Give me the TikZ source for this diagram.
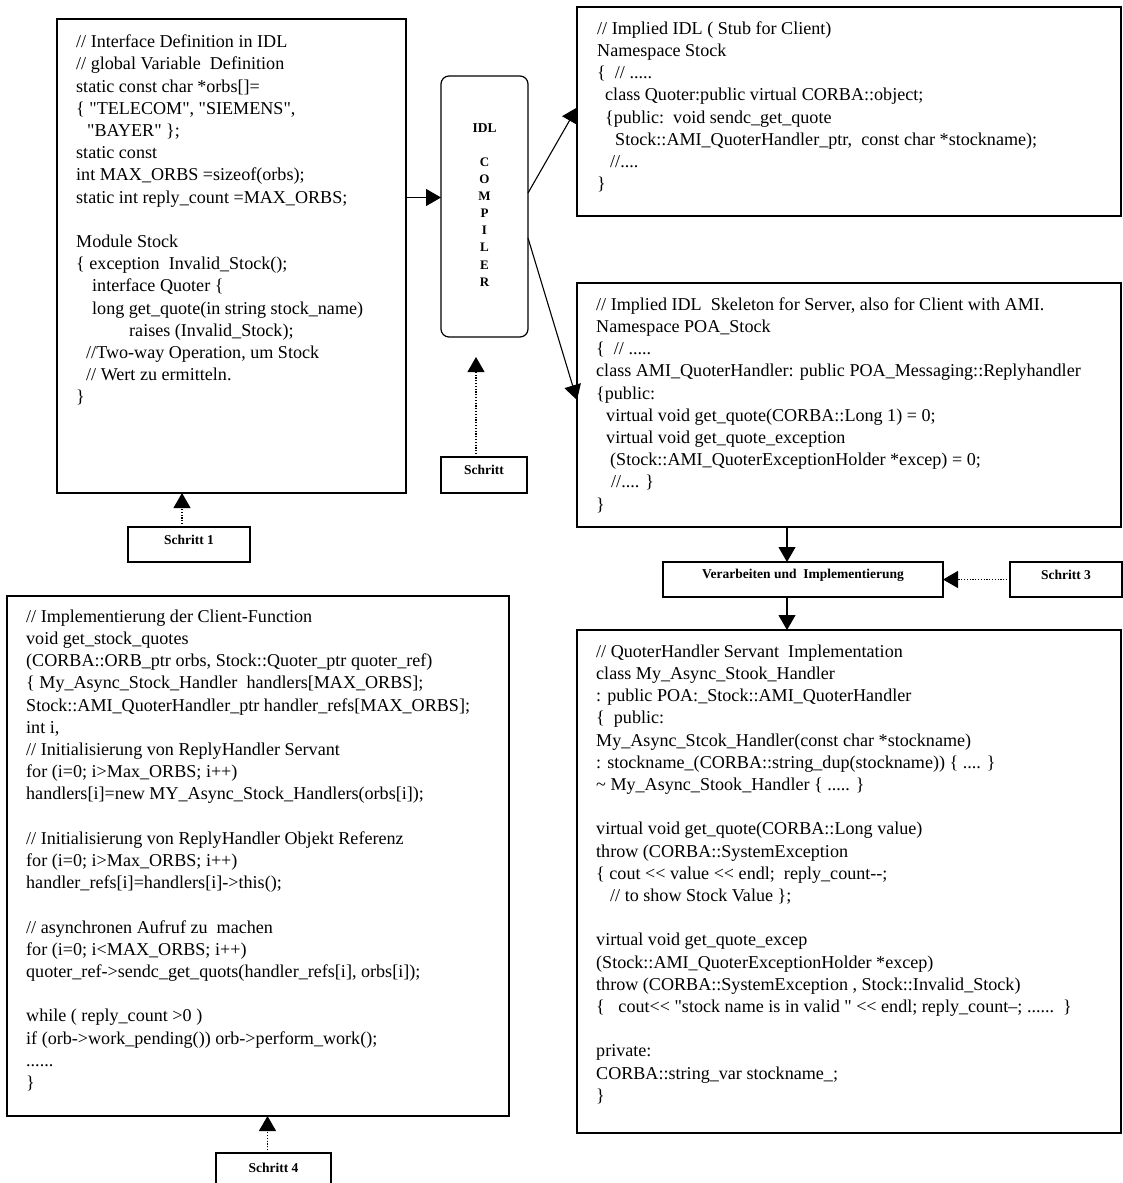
\documentclass[tikz,border=0pt]{standalone}
\usepackage{fontspec}
\newfontfamily\codefont{Liberation Serif}
\usetikzlibrary{arrows.meta,fit,calc}
\newcommand\firststrut{\rule{0pt}{15pt}}
\begin{document}
\begin{tikzpicture}[x=1pt,y=-1pt,
  frame/.style={draw, line width=1.2pt, inner sep=0pt, outer sep=0pt},
  code/.style={anchor=north west, inner sep=0pt, align=left,
    font=\codefont\fontsize{18.1}{22.2}\selectfont},
  tag/.style={font=\codefont\bfseries\fontsize{13.5}{16}\selectfont},
  flow/.style={line width=1.1pt, -{Triangle[length=15pt,width=17pt]}},
  stepflow/.style={flow, dash pattern=on 1.2pt off 1.6pt}]
\useasboundingbox (0,0) rectangle (1123,1183);

% ---- frames ----
\node[frame, fit={(57,19) (406,493)}] (A) {};
\node[frame, fit={(577,7) (1121,216)}] (C) {};
\node[frame, fit={(577,283) (1121,527)}] (D) {};
\node[frame, fit={(7,596) (509,1116)}] (B) {};
\node[frame, fit={(577,630) (1121,1133)}] (E) {};
\node[frame, rounded corners=8pt, fit={(441,76) (528,337)}] (comp) {};

% ---- step labels ----
\node[frame, tag, fit={(128,527) (250,562)}] (s1) {Schritt 1};
\node[frame, tag, fit={(441,457) (527,493)}] (s2) {Schritt};
\node[frame, tag, fit={(1010,562) (1122,597)}] (s3) {Schritt 3};
\node[frame, tag, fit={(216,1153) (331,1192)}] (s4) {Schritt 4};
\node[frame, tag, fit={(663,562) (943,597)}] (V) {Verarbeiten und\ \ Implementierung};

% ---- compiler caption ----
\node[tag] (idl) at (484.5,128) {IDL};
\node[tag, align=center, font=\codefont\bfseries\fontsize{13}{17.1}\selectfont] (cl) at (484.5,222)
  {C\\O\\M\\P\\I\\L\\E\\R};

% ---- code texts ----
\node[code] (tA) at (76,32.5) {\firststrut// Interface Definition in IDL\\
// global Variable\ \ Definition\\
static const char *orbs[]=\\
\{ "TELECOM", "SIEMENS",\\
\hspace*{11pt}"BAYER" \};\\
static const\\
int MAX\_ORBS =sizeof(orbs);\\
static int reply\_count =MAX\_ORBS;\\
\mbox{}\\
Module Stock\\
\{ exception\ \ Invalid\_Stock();\\
\hspace*{16pt}interface Quoter \{\\
\hspace*{16pt}long get\_quote(in string stock\_name)\\
\hspace*{53pt}raises (Invalid\_Stock);\\
\hspace*{10pt}//Two-way Operation, um Stock\\
\hspace*{10pt}// Wert zu ermitteln.\\
\}};

\node[code] (tC) at (597,19) {\firststrut// Implied IDL ( Stub for Client)\\
Namespace Stock\\
\{\ \ // .....\\
\hspace*{8pt}class Quoter:public virtual CORBA::object;\\
\hspace*{8pt}\{public:\ \ void sendc\_get\_quote\\
\hspace*{18pt}Stock::AMI\_QuoterHandler\_ptr,\ \ const char *stockname);\\
\hspace*{13pt}//....\\
\}};

\node[code] (tD) at (596,295) {\firststrut// Implied IDL\ \ Skeleton for Server, also for Client with AMI.\\
Namespace POA\_Stock\\
\{\ \ // .....\\
class AMI\_QuoterHandler: public POA\_Messaging::Replyhandler\\
\{public:\\
\hspace*{10pt}virtual void get\_quote(CORBA::Long 1) = 0;\\
\hspace*{10pt}virtual void get\_quote\_exception\\
\hspace*{14pt}(Stock::AMI\_QuoterExceptionHolder *excep) = 0;\\
\hspace*{15pt}//.... \}\\
\}};

\node[code] (tB) at (26,607) {\firststrut// Implementierung der Client-Function\\
void get\_stock\_quotes\\
(CORBA::ORB\_ptr orbs, Stock::Quoter\_ptr quoter\_ref)\\
\{ My\_Async\_Stock\_Handler\ \ handlers[MAX\_ORBS];\\
Stock::AMI\_QuoterHandler\_ptr handler\_refs[MAX\_ORBS];\\
int i,\\
// Initialisierung von ReplyHandler Servant\\
for (i=0; i>Max\_ORBS; i++)\\
handlers[i]=new MY\_Async\_Stock\_Handlers(orbs[i]);\\
\mbox{}\\
// Initialisierung von ReplyHandler Objekt Referenz\\
for (i=0; i>Max\_ORBS; i++)\\
handler\_refs[i]=handlers[i]->this();\\
\mbox{}\\
// asynchronen Aufruf zu\ \ machen\\
for (i=0; i<MAX\_ORBS; i++)\\
quoter\_ref->sendc\_get\_quots(handler\_refs[i], orbs[i]);\\
\mbox{}\\
while ( reply\_count >0 )\\
if (orb->work\_pending()) orb->perform\_work();\\
......\\
\}};

\node[code] (tE) at (596,642) {\firststrut// QuoterHandler Servant\ \ Implementation\\
class My\_Async\_Stook\_Handler\\
: public POA:\_Stock::AMI\_QuoterHandler\\
\{\ \ public:\\
My\_Async\_Stcok\_Handler(const char *stockname)\\
: stockname\_(CORBA::string\_dup(stockname)) \{ .... \}\\
\textasciitilde{} My\_Async\_Stook\_Handler \{ ..... \}\\
\mbox{}\\
virtual void get\_quote(CORBA::Long value)\\
throw (CORBA::SystemException\\
\{ cout << value << endl;\ \ reply\_count-{}-;\\
\hspace*{14pt}// to show Stock Value \};\\
\mbox{}\\
virtual void get\_quote\_excep\\
(Stock::AMI\_QuoterExceptionHolder *excep)\\
throw (CORBA::SystemException , Stock::Invalid\_Stock)\\
\{\ \ \ cout<< "stock name is in valid " << endl; reply\_count–; ......\ \ \}\\
\mbox{}\\
private:\\
CORBA::string\_var stockname\_;\\
\}};

% ---- connectors ----
\coordinate (inA) at ($(comp.west)+(0,-9)$);
\draw[flow] (A.east |- inA) -- (inA);
\draw[flow] ($(comp.east)+(0,-13.5)$) -- ($(C.west)+(0,-4)$);
\draw[flow] ($(comp.east)+(0,31.5)$) -- ($(D.west)+(0,-5)$);

\coordinate (col) at (787,0);
\draw[flow] (D.south -| col) -- (V.north -| col);
\draw[flow] (V.south -| col) -- (E.north -| col);

\draw[stepflow] (s3.west) -- (V.east);

\coordinate (s1top) at ($(s1.north)+(-7,0)$);
\draw[stepflow] (s1top) -- (s1top |- A.south);

\coordinate (s2top) at ($(s2.north)+(-8,0)$);
\draw[stepflow] (s2top) -- ($(s2top |- comp.south)+(0,20)$);

\coordinate (s4top) at ($(s4.north)+(-6,0)$);
\draw[stepflow] (s4top) -- (s4top |- B.south);
\end{tikzpicture}
\end{document}
